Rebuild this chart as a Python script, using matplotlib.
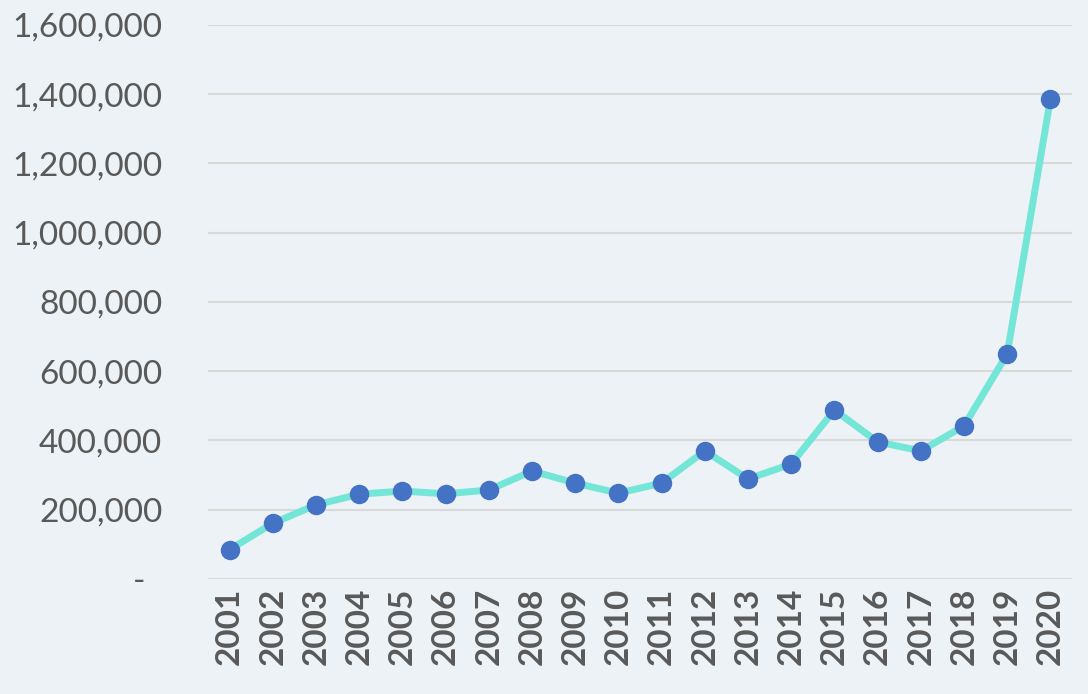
import matplotlib
matplotlib.use("Agg")
import matplotlib.pyplot as plt
from matplotlib.ticker import FuncFormatter

years = [str(y) for y in range(2001, 2021)]
values = [85000, 161000, 214000, 245000, 254000, 246000, 257000, 312000, 277000, 248000,
          277000, 370000, 289000, 332000, 488000, 396000, 370000, 442000, 650000, 1386000]
y_ticks = [0, 200000, 400000, 600000, 800000, 1000000, 1200000, 1400000, 1600000]

bg = "#ECF2F5"
fig = plt.figure(figsize=(10.88, 6.94), dpi=100, facecolor=bg)
ax = fig.add_axes([0.1912, 0.1657, 0.7941, 0.7983], facecolor=bg)

x = list(range(len(years)))
ax.plot(x, values, color="#74E6D8", lw=5, zorder=2, solid_capstyle="round")
ax.plot(x, values, ls="none", marker="o", ms=13, color="#4472C4", zorder=3)

ax.set_xlim(-0.5, len(years) - 0.5)
ax.set_ylim(0, 1600000)
ax.set_yticks(y_ticks)
ax.yaxis.set_major_formatter(FuncFormatter(lambda v, p: "-  " if v == 0 else f"{int(v):,}"))
ax.set_xticks(x)
ax.set_xticklabels(years, rotation=90, fontfamily="Lato", fontweight="bold", fontsize=24, color="#595959")
for lab in ax.get_yticklabels():
    lab.set_fontfamily("Lato")
    lab.set_fontsize(24)
    lab.set_color("#595959")

ax.grid(axis="y", color="#D9D9D9", lw=1.5, zorder=0)
ax.tick_params(axis="both", length=0)
ax.tick_params(axis="y", pad=33)
ax.tick_params(axis="x", pad=6)
for s in ax.spines.values():
    s.set_visible(False)

fig.savefig("out.png", dpi=100, facecolor=bg)
